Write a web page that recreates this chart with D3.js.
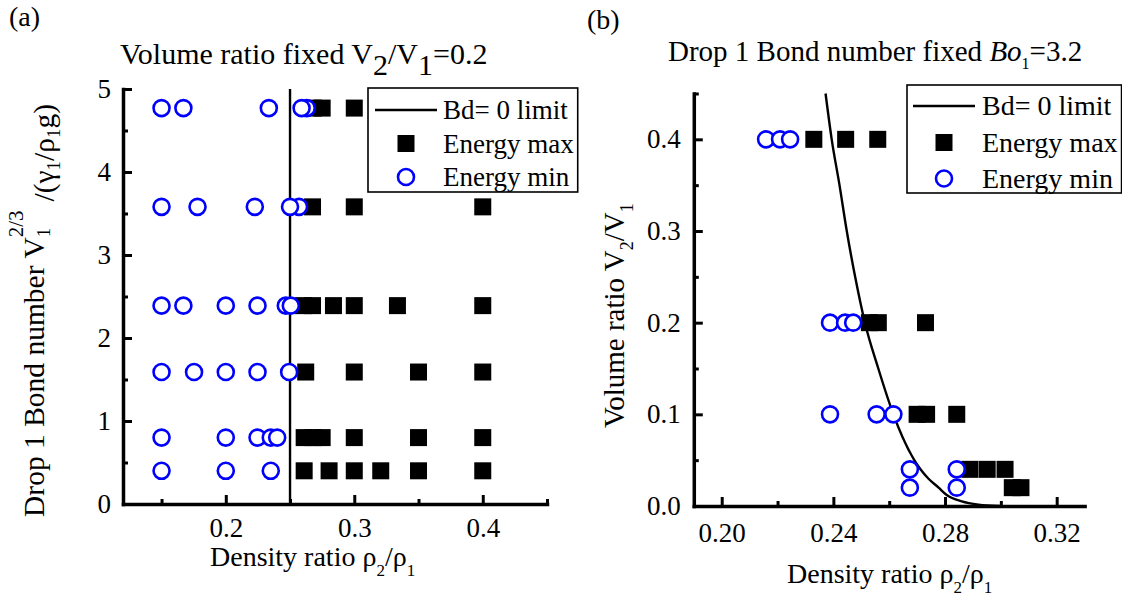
<!DOCTYPE html>
<html><head><meta charset="utf-8">
<script src="https://cdn.jsdelivr.net/npm/d3@7"></script>
<style>
body{margin:0;background:#fff}
text{font-family:"Liberation Serif","Tinos","Times New Roman","Times","Nimbus Roman","Noto Serif","DejaVu Serif",serif;fill:#000}
</style>
</head><body>
<svg id="c" width="1122" height="596"></svg>
<script>
// ---------- Panel (a) data ----------
const aXTicks = [0.2, 0.3, 0.4];
const aXMinor = [0.15, 0.25, 0.35, 0.45];
const aYTicks = [0, 1, 2, 3, 4, 5];
const aYMinor = [0.5, 1.5, 2.5, 3.5, 4.5];
const aBd0 = [[0.25, 0], [0.25, 5]];
const aEnergyMax = [
  [0.268, 4.77], [0.275, 4.77], [0.30, 4.77],
  [0.2675, 3.58], [0.30, 3.58], [0.40, 3.58],
  [0.2605, 2.39], [0.2675, 2.39], [0.2838, 2.39], [0.30, 2.39], [0.3336, 2.39], [0.40, 2.39],
  [0.2622, 1.59], [0.30, 1.59], [0.35, 1.59], [0.40, 1.59],
  [0.261, 0.80], [0.268, 0.80], [0.275, 0.80], [0.30, 0.80], [0.35, 0.80], [0.40, 0.80],
  [0.261, 0.40], [0.2804, 0.40], [0.30, 0.40], [0.3206, 0.40], [0.35, 0.40], [0.40, 0.40]
];
const aEnergyMin = [
  [0.15, 4.77], [0.167, 4.77], [0.2335, 4.77], [0.263, 4.77], [0.259, 4.77],
  [0.15, 3.58], [0.178, 3.58], [0.2226, 3.58], [0.257, 3.58], [0.250, 3.58],
  [0.15, 2.39], [0.167, 2.39], [0.20, 2.39], [0.2247, 2.39], [0.2467, 2.39], [0.2506, 2.39],
  [0.15, 1.59], [0.1753, 1.59], [0.20, 1.59], [0.2247, 1.59], [0.2493, 1.59],
  [0.15, 0.80], [0.20, 0.80], [0.2247, 0.80], [0.235, 0.80], [0.240, 0.80],
  [0.15, 0.40], [0.20, 0.40], [0.235, 0.40]
];

// ---------- Panel (b) data ----------
const bXTicks = [0.20, 0.24, 0.28, 0.32];
const bXMinor = [0.22, 0.26, 0.30];
const bYTicks = [0.0, 0.1, 0.2, 0.3, 0.4];
const bYMinor = [0.05, 0.15, 0.25, 0.35, 0.45];
const bBd0 = [
  [0.2372, 0.45], [0.2394, 0.40], [0.2422, 0.35], [0.2448, 0.30], [0.2478, 0.25],
  [0.2513, 0.20], [0.2561, 0.15], [0.2615, 0.10], [0.2648, 0.075], [0.2690, 0.05],
  [0.2712, 0.04], [0.2740, 0.03], [0.2777, 0.02], [0.2806, 0.012], [0.2860, 0.005],
  [0.2920, 0.0015], [0.2997, 0.0]
];
const bEnergyMax = [
  [0.233, 0.40], [0.2444, 0.40], [0.2559, 0.40],
  [0.2529, 0.20], [0.2561, 0.20], [0.273, 0.20],
  [0.270, 0.10], [0.2734, 0.10], [0.2842, 0.10],
  [0.2889, 0.04], [0.2951, 0.04], [0.3015, 0.04],
  [0.3041, 0.02], [0.3072, 0.02]
];
const bEnergyMin = [
  [0.2159, 0.40], [0.2209, 0.40], [0.2245, 0.40],
  [0.2388, 0.20], [0.2442, 0.20], [0.2471, 0.20],
  [0.2388, 0.10], [0.2555, 0.10], [0.2615, 0.10],
  [0.2674, 0.04], [0.2842, 0.04],
  [0.2674, 0.02], [0.2842, 0.02]
];

const legendLabels = ["Bd= 0 limit", "Energy max", "Energy min"];

// ---------- drawing ----------
const svg = d3.select("#c");
const BLUE = "#0000ff";
const TICKFS = 27;

function drawAxes(g, x, y, xt, xm, yt, ym, xpad, ypad, xfmt, yfmt) {
  const ax = g.append("g").attr("transform", `translate(0,${y.range()[0]})`);
  ax.call(d3.axisBottom(x).tickValues(xm).tickSize(-5).tickSizeOuter(0).tickFormat(""));
  ax.selectAll(".domain").remove();
  const ax2 = g.append("g").attr("transform", `translate(0,${y.range()[0]})`);
  ax2.call(d3.axisBottom(x).tickValues(xt).tickSize(-9).tickSizeOuter(0).tickPadding(xpad).tickFormat(xfmt));
  const ay = g.append("g").attr("transform", `translate(${x.range()[0]},0)`);
  ay.call(d3.axisLeft(y).tickValues(ym).tickSize(-5).tickSizeOuter(0).tickFormat(""));
  ay.selectAll(".domain").remove();
  const ay2 = g.append("g").attr("transform", `translate(${x.range()[0]},0)`);
  ay2.call(d3.axisLeft(y).tickValues(yt).tickSize(-9).tickSizeOuter(0).tickPadding(ypad).tickFormat(yfmt));
  g.selectAll(".domain").attr("stroke", "#000").attr("stroke-width", 3.5).attr("stroke-linecap", "square");
  g.selectAll(".tick line").attr("stroke", "#000").attr("stroke-width", 3);
  g.selectAll(".tick text").attr("font-size", TICKFS).attr("fill", "#000");
  g.selectAll("g").attr("font-family", null).attr("font-size", null);
}

function drawMarks(g, x, y, lineData, curve, maxData, minData) {
  g.append("path").datum(lineData)
    .attr("d", d3.line().x(d => x(d[0])).y(d => y(d[1])).curve(curve))
    .attr("fill", "none").attr("stroke", "#000").attr("stroke-width", 2.4);
  const S = 17;
  g.selectAll("rect.mx").data(maxData).join("rect").attr("class", "mx")
    .attr("x", d => x(d[0]) - S / 2).attr("y", d => y(d[1]) - S / 2)
    .attr("width", S).attr("height", S).attr("fill", "#000");
  g.selectAll("circle.mn").data(minData).join("circle").attr("class", "mn")
    .attr("cx", d => x(d[0])).attr("cy", d => y(d[1])).attr("r", 8)
    .attr("fill", "#fff").attr("stroke", BLUE).attr("stroke-width", 2.6);
}

function drawLegend(g, bx, by, bh, rows, lx0, lx1, sx, tx, fs) {
  const box = g.append("rect").attr("x", bx).attr("y", by).attr("height", bh)
    .attr("fill", "#fff").attr("stroke", "#000").attr("stroke-width", 1.6);
  g.append("line").attr("x1", lx0).attr("x2", lx1).attr("y1", rows[0]).attr("y2", rows[0])
    .attr("stroke", "#000").attr("stroke-width", 2.4);
  g.append("rect").attr("x", sx - 8.5).attr("y", rows[1] - 8.5).attr("width", 17).attr("height", 17).attr("fill", "#000");
  g.append("circle").attr("cx", sx).attr("cy", rows[2]).attr("r", 8)
    .attr("fill", "#fff").attr("stroke", BLUE).attr("stroke-width", 2.6);
  let maxEnd = 0;
  legendLabels.forEach((t, i) => {
    const tt = g.append("text").attr("x", tx).attr("y", rows[i] + 9).attr("font-size", fs).text(t);
    maxEnd = Math.max(maxEnd, tx + tt.node().getComputedTextLength());
  });
  box.attr("width", maxEnd + 4 - bx);
}

// Panel (a)
const xa = d3.scaleLinear().domain([0.12, 0.45]).range([123, 547]);
const ya = d3.scaleLinear().domain([0, 5]).range([504, 89]);
const ga = svg.append("g");
drawAxes(ga, xa, ya, aXTicks, aXMinor, aYTicks, aYMinor, 14, 12, d3.format(".1f"), d3.format("d"));
drawMarks(ga, xa, ya, aBd0, d3.curveLinear, aEnergyMax, aEnergyMin);
drawLegend(ga, 368, 88, 104, [110, 143.5, 177], 375, 437, 406, 443, 27);

// Panel (b)
const xb = d3.scaleLinear().domain([0.19, 0.33]).range([693.8, 1084.6]);
const yb = d3.scaleLinear().domain([0, 0.45]).range([506, 93.5]);
const gb = svg.append("g");
drawAxes(gb, xb, yb, bXTicks, bXMinor, bYTicks, bYMinor, 17, 13, d3.format(".2f"), d3.format(".1f"));
drawMarks(gb, xb, yb, bBd0, d3.curveMonotoneX, bEnergyMax, bEnergyMin);
drawLegend(gb, 907, 85, 108, [106, 142.5, 178.5], 913, 975, 944, 982, 28);

// ---------- texts ----------
svg.append("text").attr("x", 9).attr("y", 26).attr("font-size", 28).text("(a)");
svg.append("text").attr("x", 587).attr("y", 29).attr("font-size", 28).text("(b)");

const ta = svg.append("text").attr("x", 120).attr("y", 64).attr("font-size", 30);
ta.append("tspan").text("Volume ratio fixed V");
ta.append("tspan").attr("dy", 11).text("2");
ta.append("tspan").attr("dy", -11).text("/V");
ta.append("tspan").attr("dy", 11).text("1");
ta.append("tspan").attr("dy", -11).text("=0.2");

const tb = svg.append("text").attr("x", 668).attr("y", 61).attr("font-size", 29);
tb.append("tspan").text("Drop 1 Bond number fixed ");
tb.append("tspan").attr("font-style", "italic").text("Bo");
tb.append("tspan").attr("dy", 8).attr("font-size", 16).text("1");
tb.append("tspan").attr("dy", -8).text("=3.2");

function densityLabel(x0, yb0) {
  const t = svg.append("text").attr("x", x0).attr("y", yb0).attr("font-size", 28);
  t.append("tspan").text("Density ratio ρ");
  t.append("tspan").attr("dy", 10).attr("font-size", 17).text("2");
  t.append("tspan").attr("dy", -10).text("/ρ");
  t.append("tspan").attr("dy", 10).attr("font-size", 17).text("1");
}
densityLabel(210, 566);
densityLabel(787, 583);

const yla = svg.append("text").attr("transform", "translate(44,517) rotate(-90)").attr("font-size", 29.5);
yla.append("tspan").text("Drop 1 Bond number V");
yla.append("tspan").attr("dy", 6).attr("font-size", 19).text("1");
yla.append("tspan").attr("dx", -9.5).attr("dy", -27).attr("font-size", 21).text("2/3");
yla.append("tspan").attr("dx", 9).attr("dy", 31).text("/(γ");
yla.append("tspan").attr("dy", 6).attr("font-size", 19).text("1");
yla.append("tspan").attr("dy", -6).text("/ρ");
yla.append("tspan").attr("dy", 6).attr("font-size", 19).text("1");
yla.append("tspan").attr("dy", -6).text("g)");

const ylb = svg.append("text").attr("transform", "translate(624,428) rotate(-90)").attr("font-size", 29);
ylb.append("tspan").text("Volume ratio V");
ylb.append("tspan").attr("dy", 9).attr("font-size", 18).text("2");
ylb.append("tspan").attr("dy", -9).text("/V");
ylb.append("tspan").attr("dy", 9).attr("font-size", 18).text("1");
</script>
</body></html>
